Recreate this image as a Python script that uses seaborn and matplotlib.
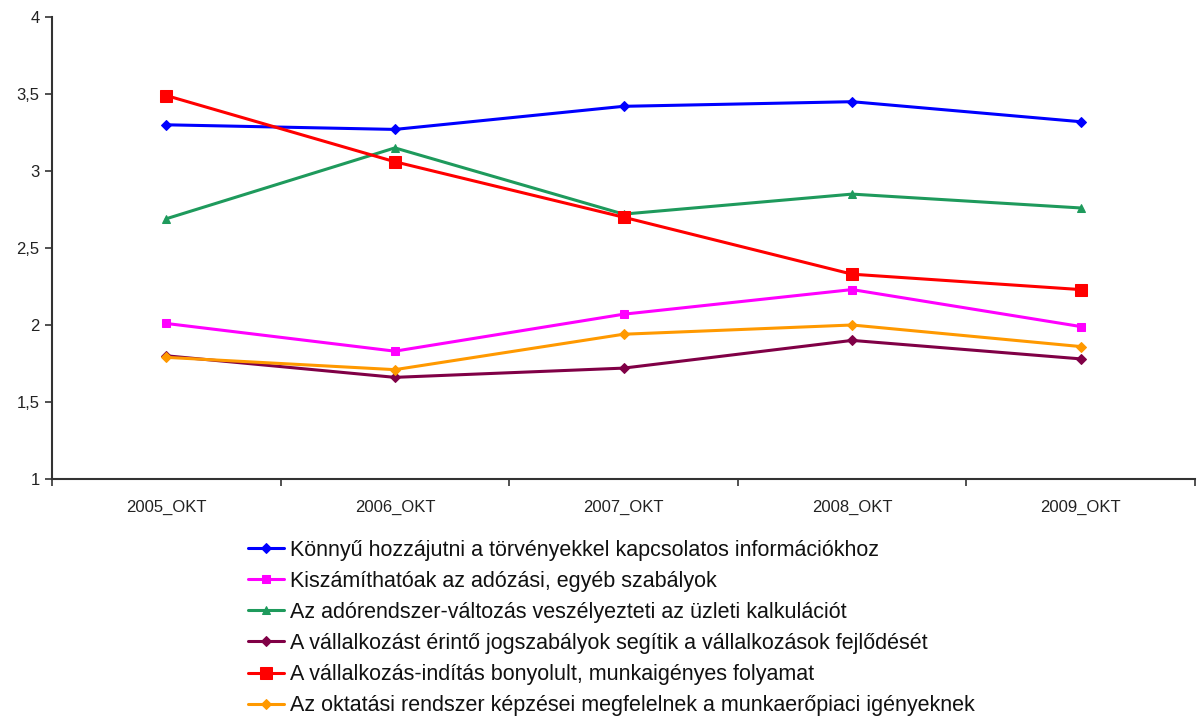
import matplotlib
matplotlib.use("Agg")
import matplotlib.pyplot as plt
import seaborn as sns
import pandas as pd
from matplotlib.ticker import FixedLocator, FuncFormatter

years = ["2005_OKT", "2006_OKT", "2007_OKT", "2008_OKT", "2009_OKT"]
labels = [
    "Könnyű hozzájutni a törvényekkel kapcsolatos információkhoz",
    "Kiszámíthatóak az adózási, egyéb szabályok",
    "Az adórendszer-változás veszélyezteti az üzleti kalkulációt",
    "A vállalkozást érintő jogszabályok segítik a vállalkozások fejlődését",
    "A vállalkozás-indítás bonyolult, munkaigényes folyamat",
    "Az oktatási rendszer képzései megfelelnek a munkaerőpiaci igényeknek",
]
s_info = [3.30, 3.27, 3.42, 3.45, 3.32]
s_kisz = [2.01, 1.83, 2.07, 2.23, 1.99]
s_ado = [2.69, 3.15, 2.72, 2.85, 2.76]
s_jog = [1.80, 1.66, 1.72, 1.90, 1.78]
s_ind = [3.49, 3.06, 2.70, 2.33, 2.23]
s_okt = [1.79, 1.71, 1.94, 2.00, 1.86]
series = [s_info, s_kisz, s_ado, s_jog, s_ind, s_okt]

colors = ["#0000FF", "#FF00FF", "#1E9A5C", "#800046", "#FF0000", "#FF9900"]
markers = ["D", "s", "^", "D", "s", "D"]
msizes = [5, 6, 6, 5, 8, 5]

sns.set_theme(style="white")
plt.rcParams["font.family"] = ["Liberation Sans", "DejaVu Sans"]

fig = plt.figure(figsize=(11.98, 7.22), dpi=100)
ax = fig.add_axes([52 / 1198, 1 - 479 / 722, (1195 - 52) / 1198, (479 - 17) / 722])

rows = []
for lab, vals in zip(labels, series):
    for y, v in zip(years, vals):
        rows.append({"Év": y, "Érték": v, "Állítás": lab})
df = pd.DataFrame(rows)

for lab, c, m, ms in zip(labels, colors, markers, msizes):
    sub = df[df["Állítás"] == lab]
    sns.lineplot(data=sub, x="Év", y="Érték", ax=ax, color=c, marker=m,
                 markersize=ms, markeredgecolor=c, linewidth=2.2, label=lab,
                 legend=False)

ax.set_xlim(-0.5, 4.5)
ax.set_ylim(1, 4)
ax.set_yticks([1, 1.5, 2, 2.5, 3, 3.5, 4])
ax.yaxis.set_major_formatter(FuncFormatter(lambda v, p: f"{v:g}".replace(".", ",")))
ax.set_xticks(range(len(years)))
ax.set_xticklabels(years)
ax.xaxis.set_minor_locator(FixedLocator([-0.5, 0.5, 1.5, 2.5, 3.5, 4.5]))
ax.tick_params(axis="x", which="major", length=0, pad=15, labelsize=12, labelcolor="#222222")
ax.tick_params(axis="x", which="minor", length=5, width=1.2, color="#333333", direction="out", bottom=True)
ax.tick_params(axis="y", which="major", length=5, width=1.2, color="#333333", direction="out", left=True,
               labelsize=12, pad=4, labelcolor="#222222")
ax.set_xlabel("")
ax.set_ylabel("")
for sp in ["top", "right"]:
    ax.spines[sp].set_visible(False)
for sp in ["left", "bottom"]:
    ax.spines[sp].set_color("#333333")
    ax.spines[sp].set_linewidth(1.5)

handles, hl = ax.get_legend_handles_labels()
leg = fig.legend(handles, hl, loc="upper left", bbox_to_anchor=(239 / 1198, 1 - 531 / 722),
                 frameon=False, fontsize=15.5, handlelength=1.7, handletextpad=0.25,
                 labelspacing=0.47, borderaxespad=0)
for t in leg.get_texts():
    t.set_color("#111111")

fig.savefig("out.png", dpi=100, facecolor="white")
